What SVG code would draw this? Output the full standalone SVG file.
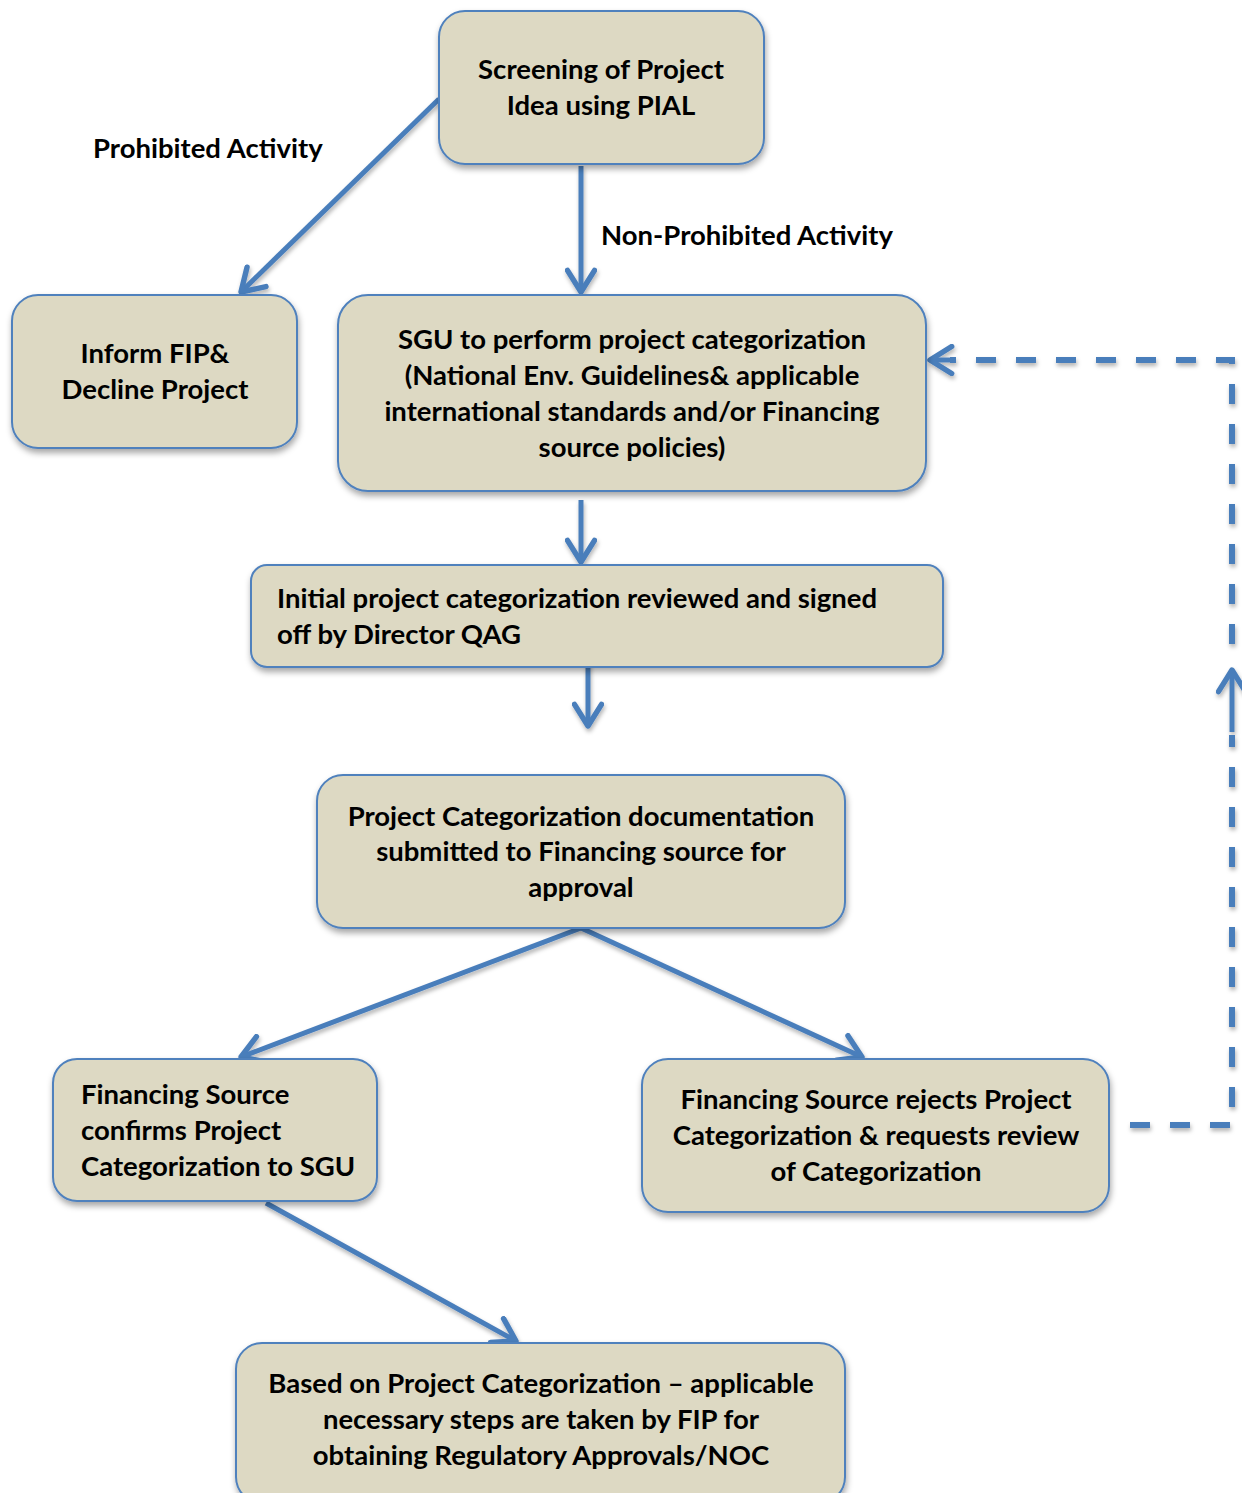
<svg xmlns="http://www.w3.org/2000/svg" width="1242" height="1493" viewBox="0 0 1242 1493">
  <style>
    .box { fill: #DDD9C3; stroke: #4F81BD; stroke-width: 2; filter: url(#shadow); }
    .t { font-family: Lato, "Open Sans", "Liberation Sans", sans-serif; font-weight: bold; font-size: 27.5px; fill: #000; }
    .c { text-anchor: middle; }
    .conn { stroke: #4A7EBB; stroke-width: 5; fill: none; stroke-linecap: butt; }
    .dash { stroke: #4A7EBB; stroke-width: 6; fill: none; stroke-dasharray: 20 20; }
  </style>
  <defs>
    <filter id="shadow" x="-10%" y="-10%" width="125%" height="130%">
      <feDropShadow dx="1" dy="4" stdDeviation="3" flood-color="#000" flood-opacity="0.35"/>
    </filter>
    <filter id="lshadow" x="-10%" y="-10%" width="125%" height="130%">
      <feDropShadow dx="1" dy="3" stdDeviation="2" flood-color="#000" flood-opacity="0.3"/>
    </filter>
    <marker id="arr" viewBox="0 0 12 12" refX="10" refY="6" markerWidth="6.5" markerHeight="6.5" markerUnits="strokeWidth" orient="auto">
      <path d="M2,1 L10,6 L2,11" fill="none" stroke="#4A7EBB" stroke-width="2" stroke-linecap="round" stroke-linejoin="round"/>
    </marker>
  </defs>

  <rect width="1242" height="1493" fill="#FFFFFF"/>

  <!-- connectors -->
  <g id="connectors" filter="url(#lshadow)">
    <line class="conn" x1="439" y1="99" x2="241" y2="292" marker-end="url(#arr)"/>
    <line class="conn" x1="581" y1="166" x2="581" y2="292" marker-end="url(#arr)"/>
    <line class="conn" x1="581" y1="500" x2="581" y2="562" marker-end="url(#arr)"/>
    <line class="conn" x1="588" y1="635" x2="588" y2="726" marker-end="url(#arr)"/>
    <line class="conn" x1="581" y1="928" x2="241" y2="1057" marker-end="url(#arr)"/>
    <line class="conn" x1="581" y1="928" x2="862" y2="1057" marker-end="url(#arr)"/>
    <line class="conn" x1="266" y1="1203" x2="516" y2="1341" marker-end="url(#arr)"/>
    <!-- return path from rejection back to categorization -->
    <path class="dash" d="M1130,1125 H1232 V735"/>
    <line class="conn" x1="1232" y1="732" x2="1232" y2="670" marker-end="url(#arr)"/>
    <path class="dash" d="M1232,644 V360 H950"/>
    <line class="conn" x1="952" y1="360" x2="930" y2="360" marker-end="url(#arr)"/>
  </g>

  <!-- edge labels -->
  <text class="t" x="93" y="158">Prohibited Activity</text>
  <text class="t" x="601" y="245">Non-Prohibited Activity</text>

  <g id="screening">
    <rect class="box" x="439" y="11" width="325" height="153" rx="26"/>
    <text class="t c" x="601" y="79">Screening of Project</text>
    <text class="t c" x="601" y="115">Idea using PIAL</text>
  </g>

  <g id="decline">
    <rect class="box" x="12" y="295" width="285" height="153" rx="26"/>
    <text class="t c" x="155" y="363">Inform FIP&amp;</text>
    <text class="t c" x="155" y="399">Decline Project</text>
  </g>

  <g id="sgu">
    <rect class="box" x="338" y="295" width="588" height="196" rx="30"/>
    <text class="t c" x="632" y="349">SGU to perform project categorization</text>
    <text class="t c" x="632" y="385">(National Env. Guidelines&amp; applicable</text>
    <text class="t c" x="632" y="421">international standards and/or Financing</text>
    <text class="t c" x="632" y="457">source policies)</text>
  </g>

  <g id="qag">
    <rect class="box" x="251" y="565" width="692" height="102" rx="16"/>
    <text class="t" x="277" y="608">Initial project categorization reviewed and signed</text>
    <text class="t" x="277" y="644">off by Director QAG</text>
  </g>

  <g id="submitted">
    <rect class="box" x="317" y="775" width="528" height="153" rx="26"/>
    <text class="t c" x="581" y="826">Project Categorization documentation</text>
    <text class="t c" x="581" y="861">submitted to Financing source for</text>
    <text class="t c" x="581" y="897">approval</text>
  </g>

  <g id="confirms">
    <rect class="box" x="53" y="1059" width="324" height="142" rx="24"/>
    <text class="t" x="81" y="1104">Financing Source</text>
    <text class="t" x="81" y="1140">confirms Project</text>
    <text class="t" x="81" y="1176">Categorization to SGU</text>
  </g>

  <g id="rejects">
    <rect class="box" x="642" y="1059" width="467" height="153" rx="26"/>
    <text class="t c" x="876" y="1109">Financing Source rejects Project</text>
    <text class="t c" x="876" y="1145">Categorization &amp; requests review</text>
    <text class="t c" x="876" y="1181">of Categorization</text>
  </g>

  <g id="approvals">
    <rect class="box" x="236" y="1343" width="609" height="160" rx="26"/>
    <text class="t c" x="541" y="1393">Based on Project Categorization – applicable</text>
    <text class="t c" x="541" y="1429">necessary steps are taken by FIP for</text>
    <text class="t c" x="541" y="1465">obtaining Regulatory Approvals/NOC</text>
  </g>
</svg>
